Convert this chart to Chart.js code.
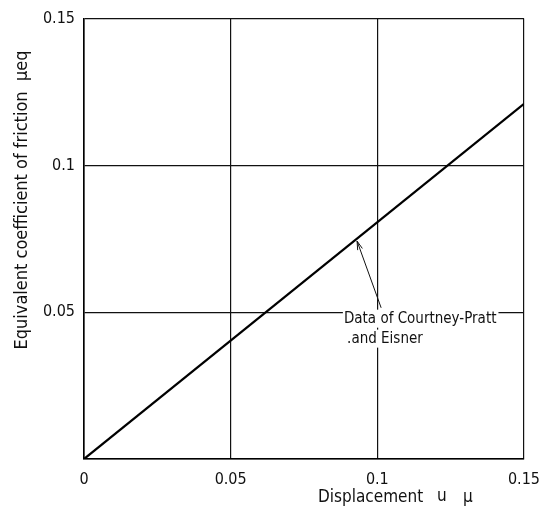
<!DOCTYPE html>
<html>
<head>
<meta charset="utf-8">
<script src="https://cdn.jsdelivr.net/npm/chart.js@4"></script>
<style>
html,body{margin:0;padding:0;background:#fff;}
#wrap{width:551px;height:509px;position:relative;}
</style>
</head>
<body>
<div id="wrap"><canvas id="c" width="551" height="509"></canvas></div>
<script>
const displacement = [0, 0.15];
const frictionCoeff = [0, 0.121];
const xTickValues = [0, 0.05, 0.1, 0.15];
const yTickValues = [0, 0.05, 0.1, 0.15];
const xTickLabels = ['0', '0.05', '0.1', '0.15'];
const yTickLabels = ['', '0.05', '0.1', '0.15'];
const xTitleParts = ['Displacement', 'u', 'μ'];
const yTitle = 'Equivalent coefficient of friction  μeq';
const noteLines = ['Data of Courtney-Pratt', '.and Eisner'];

const FONT = '"DejaVu Sans Condensed", "DejaVu Sans", sans-serif';

const overlay = {
  id: 'overlay',
  afterDatasetsDraw(chart) {
    const ctx = chart.ctx;
    const xs = chart.scales.x, ys = chart.scales.y;
    ctx.save();
    // annotation text with white background
    ctx.font = '15px ' + FONT;
    ctx.textBaseline = 'middle';
    ctx.textAlign = 'left';
    const l1x = xs.getPixelForValue(0.0886), l1y = ys.getPixelForValue(0.0478);
    const l2x = xs.getPixelForValue(0.0897), l2y = ys.getPixelForValue(0.0410);
    const w1 = ctx.measureText(noteLines[0]).width;
    const w2 = ctx.measureText(noteLines[1]).width;
    ctx.fillStyle = '#fff';
    ctx.fillRect(l1x - 1, l1y - 9, w1 + 3, 18);
    ctx.fillRect(l2x - 1, l2y - 9, w2 + 3, 18);
    ctx.fillStyle = '#111';
    ctx.fillText(noteLines[0], l1x, l1y);
    ctx.fillText(noteLines[1], l2x, l2y);
    // arrow
    const tx = xs.getPixelForValue(0.1013), ty = ys.getPixelForValue(0.0515);
    const hx = xs.getPixelForValue(0.0931), hy = ys.getPixelForValue(0.0742);
    ctx.strokeStyle = '#111';
    ctx.lineWidth = 1;
    ctx.beginPath();
    ctx.moveTo(tx, ty);
    ctx.lineTo(hx, hy);
    ctx.stroke();
    const ang = Math.atan2(hy - ty, hx - tx);
    const L = 9, A = 0.28;
    ctx.beginPath();
    ctx.moveTo(hx - L * Math.cos(ang - A), hy - L * Math.sin(ang - A));
    ctx.lineTo(hx, hy);
    ctx.lineTo(hx - L * Math.cos(ang + A), hy - L * Math.sin(ang + A));
    ctx.stroke();
    // x axis title
    ctx.fillStyle = '#111';
    ctx.font = '17px ' + FONT;
    ctx.textAlign = 'left';
    ctx.fillText(xTitleParts[0], 318, 498);
    ctx.fillText(xTitleParts[1], 437, 497);
    ctx.fillText(xTitleParts[2], 463, 498);
    // y axis title
    ctx.translate(22, 200);
    ctx.rotate(-Math.PI / 2);
    ctx.textAlign = 'center';
    ctx.font = '18px ' + FONT;
    ctx.fillText(yTitle, 0, 0);
    ctx.restore();
  }
};

new Chart(document.getElementById('c'), {
  type: 'line',
  data: {
    datasets: [{
      data: displacement.map((x, i) => ({ x: x, y: frictionCoeff[i] })),
      borderColor: '#000',
      borderWidth: 2.2,
      pointRadius: 0,
      fill: false,
      tension: 0
    }]
  },
  options: {
    responsive: false,
    animation: false,
    layout: { padding: { top: 16, right: 27, left: 0, bottom: 0 } },
    plugins: { legend: { display: false }, tooltip: { enabled: false } },
    scales: {
      x: {
        type: 'linear', min: 0, max: 0.15,
        afterBuildTicks: s => { s.ticks = xTickValues.map(v => ({ value: v })); },
        afterFit: s => { s.height = 50; },
        ticks: {
          callback: (v, i) => xTickLabels[i],
          font: { family: FONT, size: 16 }, color: '#111', padding: 11, maxRotation: 0
        },
        grid: { color: '#111', lineWidth: 1.2, drawTicks: false },
        border: { color: '#000', width: 1.6 }
      },
      y: {
        type: 'linear', min: 0, max: 0.15,
        afterBuildTicks: s => { s.ticks = yTickValues.map(v => ({ value: v })); },
        afterFit: s => { s.width = 84; },
        ticks: {
          callback: (v, i) => yTickLabels[i],
          font: { family: FONT, size: 16 }, color: '#111', padding: 9
        },
        grid: { color: '#111', lineWidth: 1.2, drawTicks: false },
        border: { color: '#000', width: 1.6 }
      }
    }
  },
  plugins: [overlay]
});
</script>
</body>
</html>
